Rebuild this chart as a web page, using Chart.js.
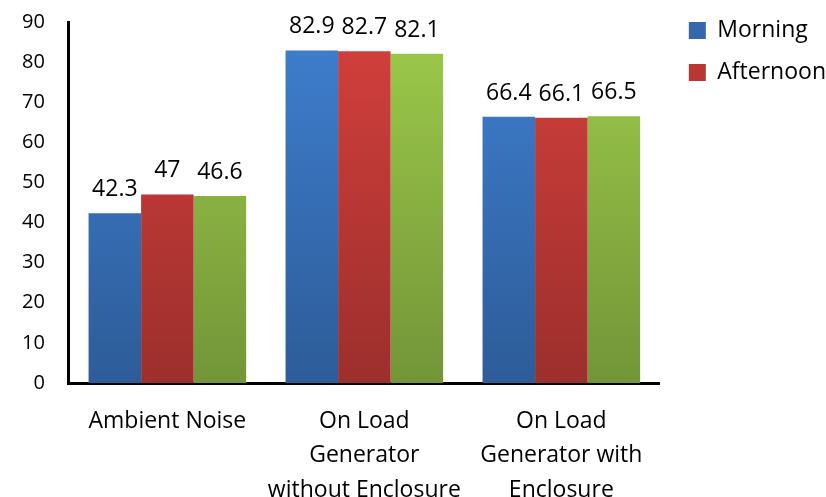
<!DOCTYPE html>
<html>
<head>
<meta charset="utf-8">
<script src="https://cdn.jsdelivr.net/npm/chart.js@4.4.1/dist/chart.umd.min.js"></script>
<style>
  html, body { margin: 0; padding: 0; background: #fff; }
  #wrap { width: 826px; height: 497px; }
</style>
</head>
<body>
<div id="wrap"><canvas id="noise"></canvas></div>
<script>
const categories = [
  'Ambient Noise',
  ['On Load', 'Generator', 'without Enclosure'],
  ['On Load', 'Generator with', 'Enclosure']
]
const morning = [42.3, 82.9, 66.4]
const afternoon = [47, 82.7, 66.1]
const evening = [46.6, 82.1, 66.5]
const yTicks = [0, 10, 20, 30, 40, 50, 60, 70, 80, 90]

const fontFamily = '"Open Sans", Lato, sans-serif'

function barGradient(top, bottom) {
  return (ctx) => {
    const area = ctx.chart.chartArea
    if (!area) return top
    const g = ctx.chart.ctx.createLinearGradient(0, area.top, 0, area.bottom)
    g.addColorStop(0, top)
    g.addColorStop(1, bottom)
    return g
  }
}

// value labels above the bars
const valueLabels = {
  id: 'valueLabels',
  afterDatasetsDraw(chart) {
    const ctx = chart.ctx
    ctx.save()
    ctx.font = '23px ' + fontFamily
    ctx.fillStyle = '#000'
    ctx.textAlign = 'center'
    ctx.textBaseline = 'alphabetic'
    chart.data.datasets.forEach((ds, i) => {
      chart.getDatasetMeta(i).data.forEach((bar, j) => {
        ctx.fillText(String(ds.data[j]), bar.x, bar.y - 17)
      })
    })
    ctx.restore()
  }
}

// legend sits a bit away from the plot and runs to the right edge, like the original
const legendPlace = {
  id: 'legendPlace',
  beforeLayout(chart) {
    if (chart.legend) chart.legend.afterFit = function () { this.width = 167 }
  },
  afterLayout(chart) {
    if (chart.legend) {
      chart.legend.left += 10
      chart.legend.right += 10
    }
  }
}

const dataNoise = {
  labels: categories,
  datasets: [
    { label: 'Morning', data: morning, backgroundColor: barGradient('#3f7fd0', '#2d5c98'), legendColor: '#3567ad' },
    { label: 'Afternoon', data: afternoon, backgroundColor: barGradient('#d4403d', '#9c2f2c'), legendColor: '#b83733' },
    { label: 'Evening', data: evening, backgroundColor: barGradient('#9dcb4b', '#739538'), legendColor: '#86ad40' }
  ]
}

const configNoise = {
  type: 'bar',
  data: dataNoise,
  options: {
    responsive: true,
    maintainAspectRatio: false,
    animation: false,
    layout: { padding: { top: 0, left: -2, right: 0, bottom: 0 } },
    datasets: { bar: { categoryPercentage: 0.8, barPercentage: 1.0 } },
    scales: {
      x: {
        afterFit: (axis) => { axis.height = 114 },
        grid: { display: false, drawTicks: false },
        border: { display: true, color: '#000', width: 3 },
        ticks: { color: '#000', font: { family: fontFamily, size: 23, lineHeight: 1.5 }, padding: 21, maxRotation: 0, autoSkip: false }
      },
      y: {
        min: 0,
        max: 90,
        afterBuildTicks: (axis) => { axis.ticks = yTicks.map(v => ({ value: v })) },
        afterFit: (axis) => { axis.paddingTop = 22 },
        grid: { display: false, drawTicks: false },
        border: { display: true, color: '#000', width: 3 },
        ticks: { color: '#000', font: { family: fontFamily, size: 20 }, padding: 24, autoSkip: false }
      }
    },
    plugins: {
      tooltip: { enabled: false },
      legend: {
        position: 'right',
        align: 'start',
        labels: {
          color: '#000',
          font: { family: fontFamily, size: 23 },
          boxWidth: 17,
          boxHeight: 17,
          padding: 19,
          filter: (item) => item.datasetIndex < 2,
          generateLabels: (chart) => chart.data.datasets.map((ds, i) => ({
            text: ds.label,
            fillStyle: ds.legendColor,
            strokeStyle: ds.legendColor,
            lineWidth: 0,
            datasetIndex: i
          }))
        }
      }
    }
  },
  plugins: [valueLabels, legendPlace]
}

const myChartNoise = new Chart(document.getElementById('noise'), configNoise)
</script>
</body>
</html>
